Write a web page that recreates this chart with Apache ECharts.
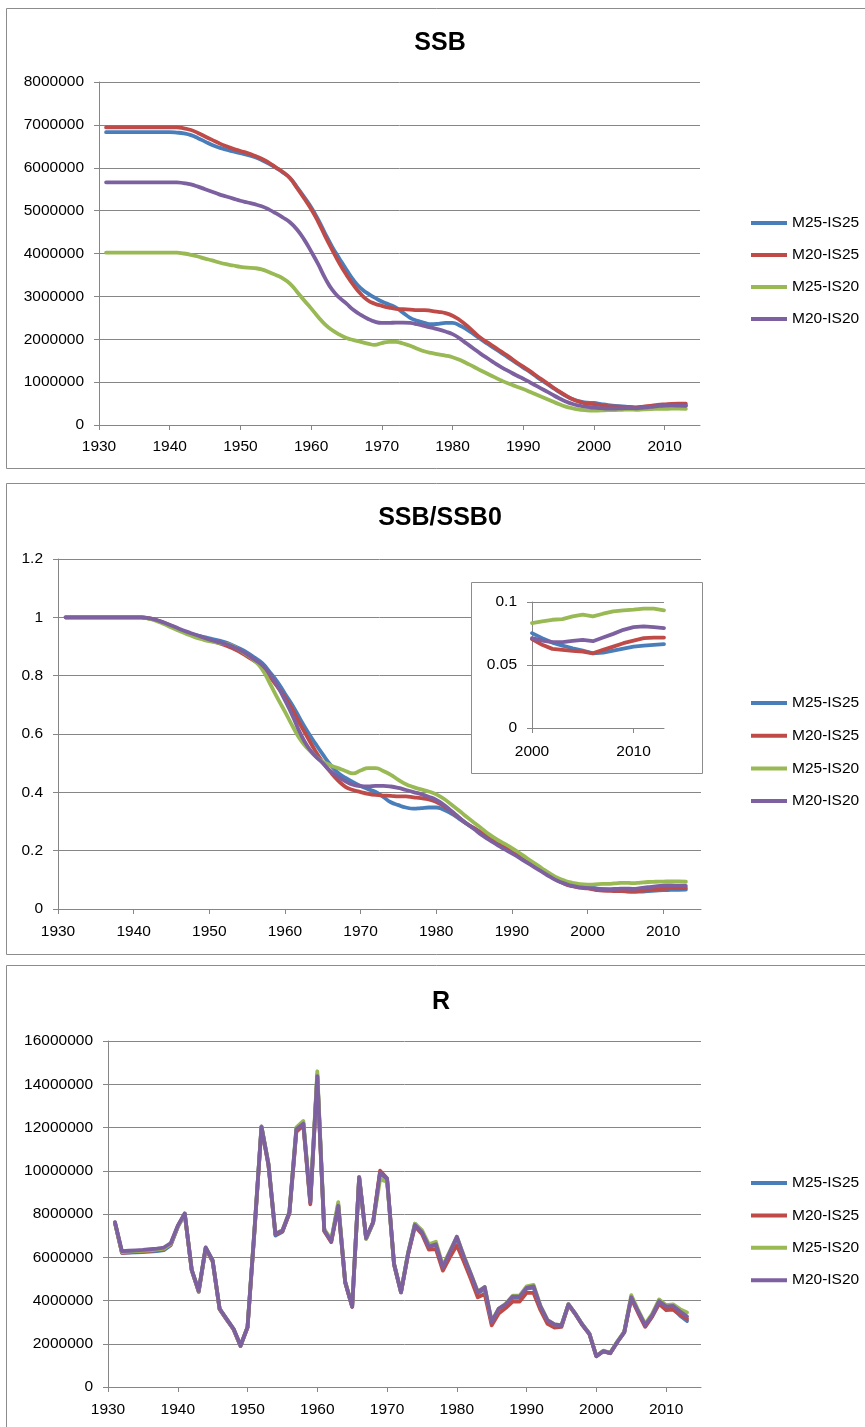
<!DOCTYPE html>
<html><head><meta charset="utf-8">
<script src="https://cdn.jsdelivr.net/npm/echarts@6.0.0/dist/echarts.min.js"></script>
<style>html,body{margin:0;padding:0;background:#fff}#c{width:865px;height:1427px}</style>
</head><body><div id="c"></div>
<script>
const years = [1931,1932,1933,1934,1935,1936,1937,1938,1939,1940,
1941,1942,1943,1944,1945,1946,1947,1948,1949,1950,
1951,1952,1953,1954,1955,1956,1957,1958,1959,1960,
1961,1962,1963,1964,1965,1966,1967,1968,1969,1970,
1971,1972,1973,1974,1975,1976,1977,1978,1979,1980,
1981,1982,1983,1984,1985,1986,1987,1988,1989,1990,
1991,1992,1993,1994,1995,1996,1997,1998,1999,2000,
2001,2002,2003,2004,2005,2006,2007,2008,2009,2010,
2011,2012,2013];
const seriesNames = ['M25-IS25','M20-IS25','M25-IS20','M20-IS20'];
const xTickYears = [1930,1940,1950,1960,1970,1980,1990,2000,2010];
const insetTickYears = [2000,2010];
const ssbTicks = [0,1000000,2000000,3000000,4000000,5000000,6000000,7000000,8000000];
const ratioTicks = [0,0.2,0.4,0.6,0.8,1,1.2];
const insetTicks = [0,0.05,0.1];
const rTicks = [0,2000000,4000000,6000000,8000000,10000000,12000000,14000000,16000000];
const panelTitles = ['SSB','SSB/SSB0','R'];

const ssbM25IS25 = [6830000,6830000,6830000,6830000,6830000,6830000,6830000,6830000,6830000,6830000,
6820000,6800000,6760000,6690000,6610000,6530000,6470000,6420000,6380000,6340000,
6300000,6250000,6180000,6100000,6000000,5890000,5760000,5550000,5320000,5080000,
4790000,4460000,4150000,3880000,3620000,3380000,3190000,3070000,2970000,2880000,
2810000,2740000,2620000,2500000,2430000,2380000,2350000,2360000,2380000,2380000,
2320000,2230000,2120000,2000000,1890000,1780000,1670000,1560000,1450000,1340000,
1230000,1110000,1000000,890000,780000,680000,600000,550000,520000,514000,
487000,463000,447000,432000,419000,405000,408000,419000,430000,441000,
447000,451000,454000];
const ssbM20IS25 = [6940000,6940000,6940000,6940000,6940000,6940000,6940000,6940000,6940000,6940000,
6940000,6920000,6880000,6810000,6730000,6650000,6570000,6500000,6440000,6390000,
6340000,6280000,6210000,6120000,6010000,5900000,5760000,5530000,5290000,5040000,
4740000,4400000,4080000,3770000,3500000,3260000,3060000,2910000,2830000,2780000,
2740000,2710000,2700000,2690000,2680000,2680000,2660000,2640000,2610000,2550000,
2450000,2320000,2170000,2030000,1920000,1810000,1700000,1590000,1470000,1360000,
1250000,1130000,1020000,900000,790000,690000,600000,540000,500000,489000,
458000,436000,430000,425000,421000,412000,430000,448000,467000,482000,
495000,498000,498000];
const ssbM25IS20 = [4020000,4020000,4020000,4020000,4020000,4020000,4020000,4020000,4020000,4020000,
4020000,4000000,3970000,3930000,3880000,3840000,3790000,3750000,3720000,3690000,
3670000,3660000,3630000,3570000,3500000,3420000,3300000,3110000,2910000,2720000,
2520000,2340000,2210000,2110000,2030000,1980000,1940000,1900000,1870000,1910000,
1940000,1940000,1900000,1850000,1780000,1720000,1680000,1650000,1620000,1580000,
1520000,1440000,1360000,1270000,1190000,1110000,1030000,960000,900000,840000,
770000,700000,630000,560000,490000,430000,390000,360000,340000,335000,
340000,345000,347000,356000,361000,356000,365000,372000,375000,377000,
381000,381000,375000];
const ssbM20IS20 = [5660000,5660000,5660000,5660000,5660000,5660000,5660000,5660000,5660000,5660000,
5660000,5640000,5610000,5560000,5500000,5440000,5380000,5330000,5280000,5230000,
5190000,5150000,5100000,5030000,4940000,4840000,4730000,4560000,4330000,4050000,
3750000,3420000,3150000,2970000,2830000,2680000,2570000,2480000,2410000,2380000,
2380000,2390000,2390000,2380000,2350000,2310000,2270000,2230000,2180000,2120000,
2020000,1900000,1780000,1660000,1550000,1440000,1340000,1250000,1160000,1080000,
990000,900000,810000,720000,630000,550000,490000,450000,420000,404000,
393000,385000,385000,391000,396000,390000,406000,423000,441000,453000,
456000,453000,449000];

const ratioM25IS25 = [1,1,1,1,1,1,1,1,1,1,
1,0.996,0.990,0.980,0.968,0.956,0.947,0.940,0.934,0.928,
0.922,0.915,0.905,0.893,0.879,0.862,0.843,0.812,0.779,0.738,
0.698,0.652,0.608,0.568,0.530,0.495,0.467,0.450,0.435,0.422,
0.411,0.401,0.384,0.366,0.356,0.348,0.344,0.346,0.348,0.348,
0.340,0.327,0.310,0.293,0.277,0.261,0.245,0.228,0.212,0.196,
0.180,0.163,0.146,0.130,0.114,0.100,0.088,0.081,0.077,0.0753,
0.0713,0.0678,0.0654,0.0633,0.0614,0.0593,0.0598,0.0614,0.0630,0.0646,
0.0654,0.0660,0.0665];
const ratioM20IS25 = [1,1,1,1,1,1,1,1,1,1,
1,0.997,0.991,0.981,0.970,0.958,0.947,0.937,0.928,0.921,
0.914,0.905,0.895,0.882,0.866,0.850,0.830,0.797,0.762,0.726,
0.683,0.634,0.588,0.543,0.504,0.470,0.441,0.419,0.408,0.401,
0.395,0.391,0.389,0.388,0.386,0.386,0.383,0.380,0.376,0.367,
0.353,0.334,0.313,0.293,0.277,0.261,0.245,0.229,0.212,0.196,
0.180,0.163,0.147,0.130,0.114,0.099,0.086,0.078,0.073,0.0705,
0.0660,0.0628,0.0620,0.0612,0.0606,0.0593,0.0620,0.0646,0.0673,0.0694,
0.0713,0.0718,0.0718];
const ratioM25IS20 = [1,1,1,1,1,1,1,1,1,1,
1,0.995,0.988,0.977,0.965,0.954,0.943,0.933,0.925,0.918,
0.913,0.910,0.903,0.888,0.871,0.851,0.821,0.774,0.724,0.677,
0.627,0.582,0.550,0.525,0.505,0.493,0.483,0.473,0.465,0.475,
0.483,0.483,0.473,0.460,0.443,0.428,0.418,0.410,0.403,0.393,
0.378,0.358,0.338,0.316,0.296,0.276,0.256,0.239,0.224,0.209,
0.192,0.174,0.157,0.139,0.122,0.107,0.097,0.090,0.085,0.0833,
0.0846,0.0859,0.0864,0.0886,0.0899,0.0886,0.0907,0.0926,0.0934,0.0939,
0.0947,0.0947,0.0934];
const ratioM20IS20 = [1,1,1,1,1,1,1,1,1,1,
1,0.997,0.991,0.982,0.972,0.961,0.951,0.942,0.933,0.924,
0.917,0.910,0.901,0.889,0.873,0.855,0.836,0.806,0.765,0.716,
0.663,0.604,0.557,0.525,0.500,0.473,0.454,0.438,0.426,0.421,
0.420,0.422,0.422,0.420,0.415,0.408,0.401,0.394,0.385,0.374,
0.357,0.336,0.314,0.293,0.274,0.254,0.237,0.221,0.205,0.191,
0.175,0.159,0.143,0.127,0.111,0.097,0.087,0.079,0.074,0.0713,
0.0694,0.0681,0.0681,0.0691,0.0699,0.0689,0.0718,0.0747,0.0779,0.0800,
0.0806,0.0800,0.0793];

const rM25IS25 = [7580000,6200000,6220000,6230000,6240000,6260000,6280000,6330000,6560000,7400000,
8000000,5400000,4400000,6420000,5830000,3600000,3130000,2670000,1900000,2760000,
7250000,12050000,10300000,7000000,7180000,8050000,11900000,12200000,8580000,14450000,
7250000,6760000,8450000,4860000,3720000,9720000,6850000,7600000,9900000,9600000,
5680000,4380000,6150000,7550000,7180000,6470000,6580000,5520000,6200000,6900000,
5980000,5180000,4330000,4550000,2950000,3570000,3770000,4120000,4120000,4550000,
4600000,3680000,3030000,2840000,2820000,3820000,3380000,2880000,2460000,1420000,
1660000,1570000,2080000,2540000,4150000,3470000,2820000,3280000,3920000,3620000,
3620000,3300000,3050000];
const rM20IS25 = [7600000,6200000,6230000,6250000,6270000,6300000,6330000,6380000,6600000,7420000,
8000000,5400000,4420000,6400000,5800000,3600000,3120000,2660000,1900000,2750000,
7200000,12000000,10250000,7050000,7200000,8020000,11800000,12100000,8450000,14350000,
7200000,6700000,8350000,4820000,3700000,9680000,6880000,7620000,10000000,9650000,
5680000,4380000,6100000,7420000,7080000,6350000,6380000,5380000,6000000,6550000,
5800000,5000000,4150000,4300000,2850000,3400000,3650000,3950000,3950000,4350000,
4350000,3550000,2920000,2750000,2780000,3800000,3360000,2860000,2450000,1420000,
1650000,1560000,2070000,2520000,4100000,3420000,2780000,3250000,3850000,3550000,
3580000,3350000,3150000];
const rM25IS20 = [7600000,6240000,6260000,6280000,6300000,6320000,6350000,6400000,6620000,7420000,
8000000,5420000,4450000,6450000,5850000,3620000,3150000,2680000,1920000,2780000,
7300000,12050000,10350000,7100000,7250000,8100000,12000000,12300000,8600000,14600000,
7300000,6800000,8550000,4880000,3750000,9700000,6850000,7580000,9600000,9500000,
5700000,4400000,6200000,7550000,7250000,6600000,6720000,5620000,6280000,6950000,
6080000,5250000,4420000,4620000,3050000,3620000,3850000,4220000,4220000,4650000,
4720000,3750000,3100000,2900000,2860000,3830000,3380000,2900000,2480000,1440000,
1680000,1580000,2100000,2560000,4250000,3550000,2920000,3380000,4050000,3780000,
3820000,3600000,3450000];
const rM20IS20 = [7620000,6280000,6300000,6320000,6340000,6370000,6400000,6450000,6660000,7460000,
8030000,5420000,4460000,6460000,5850000,3620000,3150000,2690000,1920000,2770000,
7300000,12030000,10300000,7080000,7230000,8080000,11920000,12180000,8540000,14380000,
7230000,6740000,8380000,4850000,3720000,9690000,6890000,7620000,9920000,9620000,
5690000,4380000,6150000,7490000,7150000,6490000,6600000,5540000,6230000,6950000,
6030000,5230000,4380000,4620000,3000000,3620000,3820000,4180000,4180000,4580000,
4650000,3720000,3080000,2890000,2850000,3820000,3380000,2880000,2460000,1420000,
1660000,1570000,2080000,2540000,4150000,3490000,2850000,3310000,3970000,3720000,
3750000,3490000,3260000];

const COLORS = ['#4A7EBB','#BE4B48','#98B954','#7D60A0'];
const AX = '#868686';
const FONT = '"Liberation Sans", Arial, sans-serif';
const LABEL = {color:'#000', fontSize:15.5, fontFamily:FONT};

function pairs(vals){ return vals.map((v,i)=>[years[i], v]); }
function insetPairs(vals){ return years.map((y,i)=>[y, vals[i]]).filter(p=>p[0]>=2000); }
function fmt(v){ return String(+(+v).toFixed(4)); }

function xAx(gridIndex, min, max, ticks, margin, z){
  return {type:'value', gridIndex, min, max, interval:10, z:z||0,
    axisLine:{show:true, onZero:false, lineStyle:{color:AX, width:1}},
    axisTick:{show:true, inside:false, length:5, customValues:ticks, lineStyle:{color:AX}},
    axisLabel:Object.assign({customValues:ticks, margin, formatter:v=>String(v)}, LABEL),
    splitLine:{show:false}};
}
function yAx(gridIndex, ticks, z){
  return {type:'value', gridIndex, min:ticks[0], max:ticks[ticks.length-1], interval:ticks[1]-ticks[0], z:z||0,
    axisLine:{show:true, lineStyle:{color:AX, width:1}},
    axisTick:{show:true, inside:false, length:5, lineStyle:{color:AX}},
    axisLabel:Object.assign({margin:15, formatter:fmt}, LABEL),
    splitLine:{show:true, lineStyle:{color:AX, width:1}}};
}
function lines(sets, axisIndex, smooth, z, width){
  return sets.map((vals,k)=>({type:'line', name:seriesNames[k], xAxisIndex:axisIndex, yAxisIndex:axisIndex,
    data:vals, showSymbol:false, symbol:'none', smooth:smooth,
    z:z, clip:true, lineStyle:{color:COLORS[k], width:width, cap:'round', join:'round'}, itemStyle:{color:COLORS[k]}}));
}
function legend(top, gap){
  return {orient:'vertical', left:746, top, itemWidth:36, itemHeight:4, itemGap:gap, icon:'rect',
    data:seriesNames, textStyle:Object.assign({lineHeight:16}, LABEL), selectedMode:false};
}

const chart = echarts.init(document.getElementById('c'), null, {renderer:'canvas'});
const option = {
  animation:false,
  backgroundColor:'#fff',
  color:COLORS,
  grid:[
    {left:99, top:82, width:601, height:343},
    {left:58, top:559, width:643, height:350},
    {left:532, top:602, width:132, height:126},
    {left:108, top:1041, width:593, height:346}
  ],
  xAxis:[
    xAx(0,1930,2015,xTickYears,14),
    xAx(1,1930,2015,xTickYears,15),
    xAx(2,2000,2013,insetTickYears,16,20),
    xAx(3,1930,2015,xTickYears,15)
  ],
  yAxis:[
    yAx(0, ssbTicks),
    yAx(1, ratioTicks),
    yAx(2, insetTicks, 20),
    yAx(3, rTicks)
  ],
  legend:[legend(210,16), legend(690,16.7), legend(1170,16.4)],
  series:[].concat(
    lines([pairs(ssbM25IS25),pairs(ssbM20IS25),pairs(ssbM25IS20),pairs(ssbM20IS20)],0,0.5,2,3.8),
    lines([pairs(ratioM25IS25),pairs(ratioM20IS25),pairs(ratioM25IS20),pairs(ratioM20IS20)],1,0.5,2,3.8),
    lines([insetPairs(ratioM25IS25),insetPairs(ratioM20IS25),insetPairs(ratioM25IS20),insetPairs(ratioM20IS20)],2,false,21,3.8),
    lines([pairs(rM25IS25),pairs(rM20IS25),pairs(rM25IS20),pairs(rM20IS20)],3,false,2,3.8)
  ),
  graphic:[
    {type:'rect', z:1, silent:true, shape:{x:6.5,y:8.5,width:900,height:460}, style:{fill:null, stroke:'#8c8c8c', lineWidth:1}},
    {type:'rect', z:1, silent:true, shape:{x:6.5,y:483.5,width:900,height:471}, style:{fill:null, stroke:'#8c8c8c', lineWidth:1}},
    {type:'rect', z:1, silent:true, shape:{x:6.5,y:965.5,width:900,height:500}, style:{fill:null, stroke:'#8c8c8c', lineWidth:1}},
    {type:'rect', z:15, silent:true, shape:{x:471.5,y:582.5,width:231,height:191}, style:{fill:'#fff', stroke:'#8c8c8c', lineWidth:1}},
    {type:'text', z:5, x:440, y:43, style:{text:panelTitles[0], fontSize:25, fontWeight:'bold', fontFamily:FONT, fill:'#000', align:'center', verticalAlign:'middle'}},
    {type:'text', z:5, x:440, y:518, style:{text:panelTitles[1], fontSize:25, fontWeight:'bold', fontFamily:FONT, fill:'#000', align:'center', verticalAlign:'middle'}},
    {type:'text', z:5, x:441, y:1002, style:{text:panelTitles[2], fontSize:25, fontWeight:'bold', fontFamily:FONT, fill:'#000', align:'center', verticalAlign:'middle'}}
  ]
};
chart.setOption(option);
</script>
</body></html>
